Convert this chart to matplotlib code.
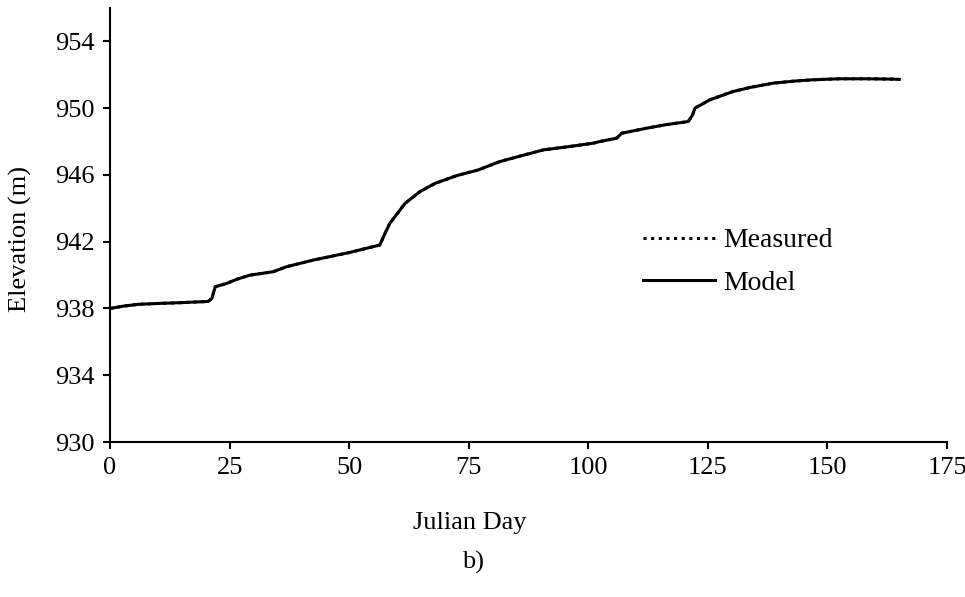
import matplotlib
matplotlib.use('Agg')
import matplotlib.pyplot as plt

plt.rcParams['font.family'] = ['Liberation Serif', 'DejaVu Serif']

# values
day = [0, 3, 6, 10, 15, 20.5, 21.3, 22, 24.4, 26.5, 29.3, 34.1, 36.9, 42.5, 50,
       56.4, 57.5, 58.5, 61.7, 64.8, 68, 72.5, 77, 81.5, 86, 90.6, 96, 101,
       102.4, 105.9, 107, 112.2, 116, 120.9, 121.8, 122.3, 125.4, 130.3, 134,
       138.7, 143, 147, 152.6, 158, 163.8, 165]
measured = [938.0, 938.15, 938.25, 938.3, 938.35, 938.42, 938.6, 939.3, 939.5,
            939.75, 940.0, 940.2, 940.5, 940.9, 941.35, 941.8, 942.5, 943.1,
            944.3, 945.0, 945.5, 945.96, 946.3, 946.8, 947.15, 947.5, 947.7,
            947.9, 948.0, 948.2, 948.5, 948.8, 949.0, 949.2, 949.6, 950.0,
            950.5, 951.0, 951.25, 951.5, 951.62, 951.7, 951.76, 951.76, 951.74,
            951.72]
model = [938.0, 938.15, 938.25, 938.3, 938.35, 938.42, 938.6, 939.3, 939.5,
         939.75, 940.0, 940.2, 940.5, 940.9, 941.35, 941.8, 942.5, 943.1,
         944.3, 945.0, 945.5, 945.96, 946.3, 946.8, 947.15, 947.5, 947.7,
         947.9, 948.0, 948.2, 948.5, 948.8, 949.0, 949.2, 949.6, 950.0,
         950.5, 951.0, 951.25, 951.5, 951.62, 951.7, 951.76, 951.76, 951.74,
         951.72]
xticks = [0, 25, 50, 75, 100, 125, 150, 175]
yticks = [930, 934, 938, 942, 946, 950, 954]

fig = plt.figure(figsize=(9.65, 5.97), dpi=100)
ax = fig.add_axes([0.114, 0.2596, 0.8674, 0.727])

ax.plot(day, measured, color='black', linestyle=(0, (1, 1.5)), lw=2.2, label='Measured')
ax.plot(day, model, color='black', linestyle='-', lw=2.2, label='Model')

ax.set_xlim(0, 175)
ax.set_ylim(930, 956)
ax.set_xticks(xticks)
ax.set_yticks(yticks)
ax.tick_params(direction='out', length=5, width=1.5, labelsize=19, pad=6)
ax.spines['top'].set_visible(False)
ax.spines['right'].set_visible(False)
for s in ['left', 'bottom']:
    ax.spines[s].set_linewidth(1.5)

fig.text(20 / 965, 1 - 239 / 597, 'Elevation (m)', rotation=90,
         ha='center', va='center', fontsize=19)
fig.text(470 / 965, 1 - 523 / 597, 'Julian Day', ha='center', va='center', fontsize=19)
fig.text(473 / 965, 1 - 562 / 597, 'b)', ha='center', va='center', fontsize=19)

leg = ax.legend(loc='upper left', bbox_to_anchor=(643 / 965, 1 - 228 / 597),
                bbox_transform=fig.transFigure, frameon=False, fontsize=20,
                handlelength=2.6, handletextpad=0.3, labelspacing=0.6,
                borderaxespad=0, borderpad=0)

fig.savefig('out.png', dpi=100)
